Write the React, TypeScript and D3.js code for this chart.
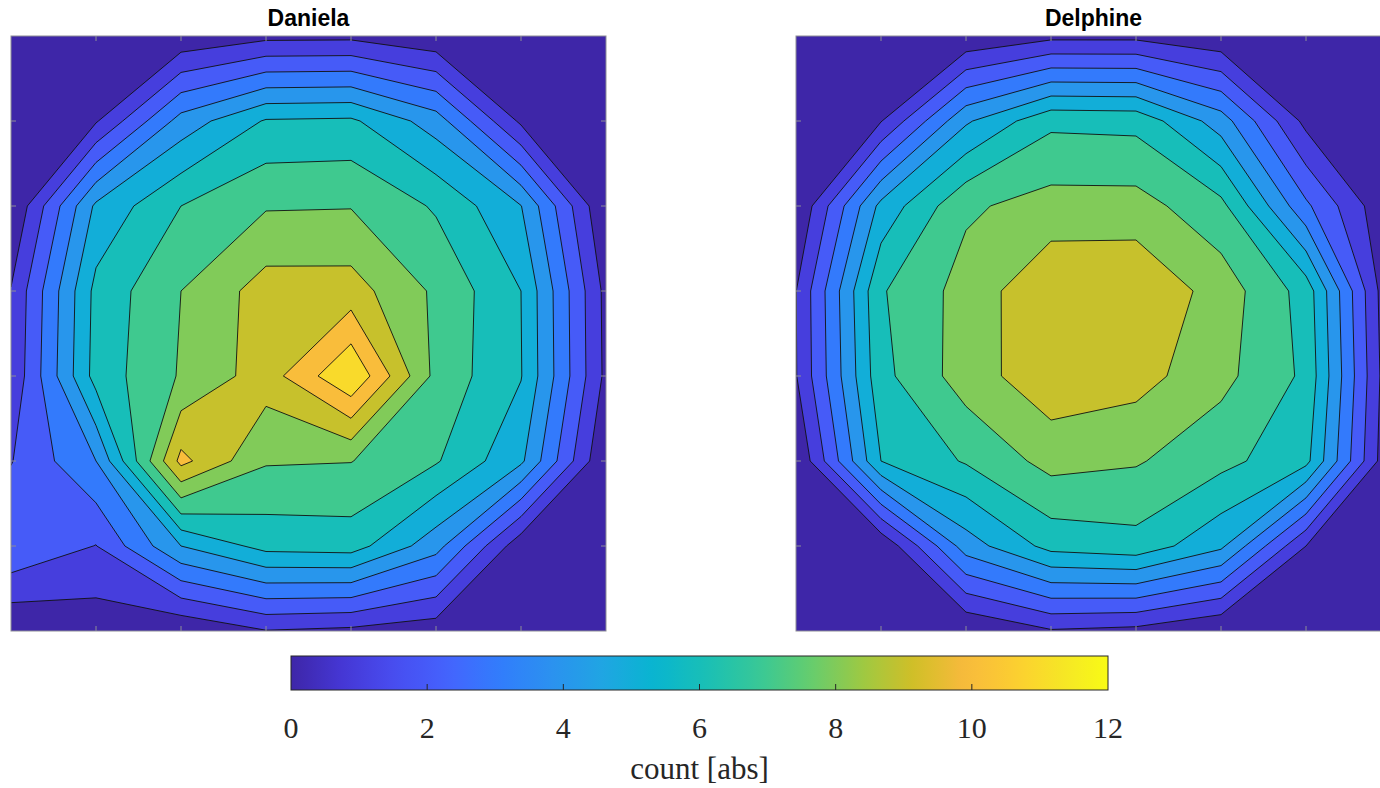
import React, { useMemo } from 'react'
import * as d3 from 'd3'

// grid counts, rows top -> bottom, columns left -> right
const danielaCounts: number[][] = [
    [0.0, 0.0, 0.2, 0.72, 0.75, 0.2, 0.0, 0.0],
    [0.0, 0.9, 4.4, 6.1, 6.18, 4.5, 0.8, 0.0],
    [0.0, 5.2, 7.0, 7.91, 7.95, 6.88, 5.03, 0.0],
    [1.05, 6.3, 8.0, 9.45, 9.44, 7.82, 6.0, 0.7],
    [1.17, 6.4, 8.1, 9.5, 11.95, 7.7, 6.05, 0.75],
    [1.95, 4.0, 10.3, 8.1, 8.03, 7.1, 5.2, 0.0],
    [2.9, 1.97, 5.0, 6.35, 6.46, 4.4, 0.3, 0.0],
    [0.05, 0.38, 0.1, 0.95, 0.76, 0.4, 0.0, 0.0],
]

const delphineCounts: number[][] = [
    [0.0, 0.0, 0.12, 0.72, 0.72, 0.2, 0.0, 0.0],
    [0.0, 0.95, 4.85, 6.78, 6.7, 4.5, 0.7, 0.0],
    [0.0, 5.3, 7.84, 8.4, 8.4, 7.3, 3.2, 0.0],
    [0.98, 6.9, 8.4, 9.85, 9.9, 8.56, 6.6, 0.0],
    [0.95, 6.7, 8.5, 9.7, 9.4, 8.3, 6.8, 0.13],
    [0.0, 6.0, 7.1, 8.35, 8.1, 7.3, 6.3, 0.0],
    [0.0, 0.1, 4.5, 6.35, 6.65, 5.2, 1.0, 0.0],
    [0.0, 0.0, 0.0, 0.9, 0.7, 0.0, 0.0, 0.0],
]

const panelNames = ['Daniela', 'Delphine']
const levels = d3.range(0, 13)
const colorTicks = [0, 2, 4, 6, 8, 10, 12]
const colorLabel = 'count [abs]'

// parula, sampled from the 64 entry table
const parulaPos = [1, 5, 9, 13, 17, 21, 25, 29, 33, 37, 41, 45, 49, 53, 57, 61, 64].map(i => (i - 1) / 63)
const parulaRgb = [
    [0.2422, 0.1504, 0.6603], [0.2706, 0.2147, 0.8364], [0.2813, 0.3006, 0.9414],
    [0.2699, 0.3892, 0.9906], [0.1963, 0.4847, 0.9892], [0.1687, 0.5703, 0.9359],
    [0.1248, 0.6459, 0.8883], [0.0297, 0.7082, 0.8163], [0.0964, 0.7500, 0.7120],
    [0.2161, 0.7843, 0.5923], [0.3909, 0.8029, 0.4354], [0.6174, 0.7876, 0.2612],
    [0.8203, 0.7498, 0.1535], [0.9728, 0.7298, 0.2394], [0.9892, 0.8136, 0.1885],
    [0.9597, 0.9135, 0.1423], [0.9769, 0.9839, 0.0805],
]
const parula = d3.scaleLinear<string>()
    .domain(parulaPos)
    .range(parulaRgb.map(c => d3.rgb(c[0] * 255, c[1] * 255, c[2] * 255).formatHex()))
    .interpolate(d3.interpolateRgb)
    .clamp(true)

const W = 1380
const H = 788
const plotTop = 36
const plotSize = 595
const panelLeft = [11, 796]

const colorScale = d3.scaleLinear().domain([0, 12]).range([0, 1])

interface IPanelProps {
    name: string,
    counts: number[][],
    x0: number,
}

const ContourPanel = ({ name, counts, x0 }: IPanelProps) => {
    const ny = counts.length
    const nx = counts[0].length

    const xScale = useMemo(() => (
        d3.scaleLinear().domain([0, nx - 1]).range([x0, x0 + plotSize])
    ), [nx, x0])

    const yScale = useMemo(() => (
        d3.scaleLinear().domain([0, ny - 1]).range([plotTop, plotTop + plotSize])
    ), [ny])

    // contour the negated field: d3 splits saddles so that the "high" corners
    // stay apart, matlab joins them; regions are then {v <= t}, painted top down
    const regions = useMemo(() => (
        d3.contours()
            .size([nx, ny])
            .thresholds(levels.slice(1).map(t => -t))(counts.flat().map(v => -v))
    ), [counts, nx, ny])

    // d3 puts grid value i at i + 0.5
    const path = useMemo(() => d3.geoPath(d3.geoTransform({
        point(x: number, y: number) {
            this.stream.point(xScale(x - 0.5), yScale(y - 0.5))
        }
    })), [xScale, yScale])

    const clipId = `clip-${name}`
    const tickLen = 5
    const inner = d3.range(1, nx - 1)

    return (
        <g>
            <defs>
                <clipPath id={clipId}>
                    <rect x={x0} y={plotTop} width={plotSize} height={plotSize} />
                </clipPath>
            </defs>
            <g clipPath={`url(#${clipId})`}>
                <rect x={x0} y={plotTop} width={plotSize} height={plotSize}
                    fill={parula(colorScale(levels[levels.length - 1]))} />
                {regions.map((r, i) => (
                    <path
                        key={i}
                        d={path(r as any) || ''}
                        fill={parula(colorScale(-r.value - 1))}
                        stroke="#111"
                        strokeWidth={0.9}
                        strokeLinejoin="round"
                    />
                ))}
            </g>
            <rect x={x0} y={plotTop} width={plotSize} height={plotSize}
                fill="none" stroke="#8d8d96" strokeWidth={1} />
            {inner.map(i => (
                <g key={i} stroke="#8d8d96" strokeWidth={1}>
                    <line x1={xScale(i)} x2={xScale(i)} y1={plotTop} y2={plotTop + tickLen} />
                    <line x1={xScale(i)} x2={xScale(i)} y1={plotTop + plotSize} y2={plotTop + plotSize - tickLen} />
                    <line x1={x0} x2={x0 + tickLen} y1={yScale(i)} y2={yScale(i)} />
                    <line x1={x0 + plotSize} x2={x0 + plotSize - tickLen} y1={yScale(i)} y2={yScale(i)} />
                </g>
            ))}
            <text
                x={x0 + plotSize / 2}
                y={26}
                textAnchor="middle"
                fontFamily="'Liberation Sans', Arial, sans-serif"
                fontWeight="bold"
                fontSize={23}
                fill="#000"
            >{name}</text>
        </g>
    )
}

const Colorbar = () => {
    const left = 291
    const right = 1108
    const top = 656
    const h = 34
    const cb = d3.scaleLinear().domain([0, 12]).range([left, right])
    const stops = d3.range(0, 1.0001, 0.02)

    return (
        <g>
            <defs>
                <linearGradient id="cbGrad" x1="0" x2="1" y1="0" y2="0">
                    {stops.map((t, i) => (
                        <stop key={i} offset={t} stopColor={parula(t)} />
                    ))}
                </linearGradient>
            </defs>
            <rect x={left} y={top} width={right - left} height={h} fill="url(#cbGrad)" />
            {colorTicks.slice(1, -1).map(t => (
                <line key={t} x1={cb(t)} x2={cb(t)} y1={top + h} y2={top + h - 6}
                    stroke="#262626" strokeWidth={1} />
            ))}
            <rect x={left} y={top} width={right - left} height={h}
                fill="none" stroke="#262626" strokeWidth={1} />
            {colorTicks.map(t => (
                <text key={t} x={cb(t)} y={738} textAnchor="middle"
                    fontFamily="'Liberation Serif', 'Times New Roman', serif"
                    fontSize={30} fill="#262626">{t}</text>
            ))}
            <text x={(left + right) / 2} y={779} textAnchor="middle"
                fontFamily="'Liberation Serif', 'Times New Roman', serif"
                fontSize={31} fill="#262626">{colorLabel}</text>
        </g>
    )
}

export default function App() {
    const data = [danielaCounts, delphineCounts]
    return (
        <svg
            width={W}
            height={H}
            viewBox={`0 0 ${W} ${H}`}
            style={{ position: 'absolute', left: 0, top: 0, background: '#fff' }}
        >
            <rect x={0} y={0} width={W} height={H} fill="#fff" />
            {panelNames.map((n, i) => (
                <ContourPanel key={n} name={n} counts={data[i]} x0={panelLeft[i]} />
            ))}
            <Colorbar />
        </svg>
    )
}
